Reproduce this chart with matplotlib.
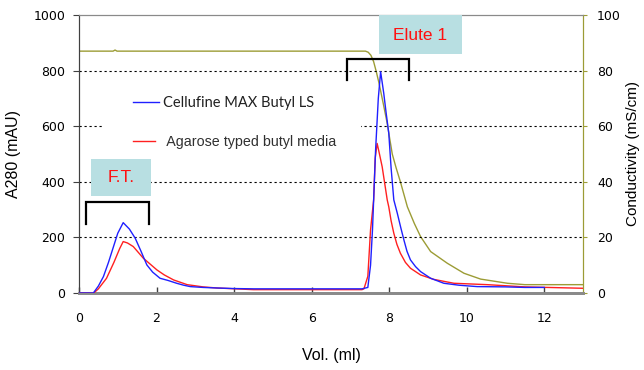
import matplotlib
matplotlib.use("Agg")
import matplotlib.pyplot as plt
from matplotlib.patches import Rectangle

# ---------------- data ----------------
cell_x = [0, 0.37, 0.5, 0.63, 0.76, 0.89, 1.0, 1.14, 1.3, 1.45, 1.6, 1.75, 1.9, 2.09, 2.3, 2.52,
          2.7, 2.87, 3.2, 3.56, 4.0, 4.5, 5.5, 6.5, 7.3, 7.45, 7.52, 7.57, 7.65, 7.72, 7.78, 7.86,
          7.92, 7.99, 8.05, 8.12, 8.21, 8.3, 8.38, 8.46, 8.55, 8.68, 8.81, 9.07, 9.41, 9.8, 10.27,
          11.0, 11.5, 12.0]
cell_y = [0, 0, 25, 59, 110, 167, 215, 253, 230, 197, 150, 101, 75, 53, 45, 35,
          28, 23, 20, 18, 16, 15, 15, 15, 15, 20, 100, 227, 514, 700, 796, 719,
          650, 575, 450, 335, 287, 235, 191, 150, 119, 95, 77, 53, 35, 28, 23,
          22, 20, 20]

agar_x = [0, 0.38, 0.5, 0.71, 0.9, 1.05, 1.14, 1.25, 1.40, 1.66, 2.01, 2.2, 2.44, 2.79, 3.2,
          3.56, 4.5, 5.5, 6.5, 7.3, 7.35, 7.45, 7.52, 7.6, 7.64, 7.69, 7.75, 7.82, 7.95, 7.99,
          8.05, 8.12, 8.2, 8.29, 8.42, 8.55, 8.81, 9.15, 9.67, 10.53, 11.5, 13]
agar_y = [0, 0, 15, 53, 110, 160, 185, 180, 167, 125, 83, 65, 47, 30, 22,
          18, 12, 12, 12, 12, 15, 60, 227, 335, 485, 538, 500, 454, 335, 310,
          260, 215, 175, 143, 110, 89, 65, 49, 35, 30, 22, 17]

cond_x = [0, 0.88, 0.93, 0.98, 7.39, 7.46, 7.53, 7.6, 7.67, 7.74, 7.85, 7.95, 8.08, 8.18, 8.29,
          8.47, 8.65, 8.81, 9.07, 9.5, 9.93, 10.36, 11.05, 11.5, 13]
cond_y = [87, 87, 87.4, 87, 87, 86.6, 85.5, 83.2, 79.5, 75.4, 68, 61, 50, 45, 40,
          31, 25, 20.3, 14.9, 10.7, 7.1, 5, 3.5, 3.0, 3.0]

x_ticks = [0, 2, 4, 6, 8, 10, 12]
y_ticks = [0, 200, 400, 600, 800, 1000]
y2_ticks = [0, 20, 40, 60, 80, 100]
grid_levels = [200, 400, 600, 800]

label_cell = "Cellufine MAX Butyl LS"
label_agar = " Agarose typed butyl media"

# ---------------- layout ----------------
W, H = 644, 370
fig = plt.figure(figsize=(W / 100, H / 100), dpi=100)
L, R, T, B = 79, 583, 15, 293
ax = fig.add_axes([L / W, (H - B) / H, (R - L) / W, (B - T) / H])
ax2 = ax.twinx()

def fx(px):
    return (px - L) / (R - L)

def fy(py):
    return (B - py) / (B - T)

olive = "#9c9c35"
tick_font = dict(family="DejaVu Sans", size=9)

for lv in grid_levels:
    ax.axhline(lv, color="black", lw=0.8, ls=(0, (2, 2.5)), zorder=1)

ax.plot(agar_x, agar_y, color="#ff2020", lw=1.0, zorder=3)
ax.plot(cell_x, cell_y, color="#2020ff", lw=1.0, zorder=3)
ax2.plot(cond_x, cond_y, color=olive, lw=1.0)

ax.set_xlim(0, 13)
ax.set_ylim(0, 1000)
ax2.set_ylim(0, 100)
ax.set_xticks(x_ticks)
ax.set_yticks(y_ticks)
ax2.set_yticks(y2_ticks)
ax.set_xticklabels([str(v) for v in x_ticks], fontdict=tick_font)
ax.set_yticklabels([str(v) for v in y_ticks], fontdict=tick_font)
ax2.set_yticklabels([str(v) for v in y2_ticks], fontdict=tick_font)

ax.tick_params(axis="x", direction="in", length=4, width=1, color="#404040", pad=14)
ax.tick_params(axis="y", direction="out", length=4, width=0.8, color="#404040", pad=6)
ax2.tick_params(axis="y", direction="out", length=3, width=0.8, color=olive, pad=7)

for a in (ax, ax2):
    a.spines["top"].set_color("#8a8a8a")
    a.spines["left"].set_color("#404040")
    a.spines["right"].set_color(olive)
    a.spines["bottom"].set_color("#8a8a8a")
    a.spines["bottom"].set_linewidth(2)
    a.patch.set_visible(False)

ax.set_zorder(2)
ax2.set_zorder(1)

lab_font = dict(family="Liberation Sans", size=11.5)
ax.set_xlabel("Vol. (ml)", fontdict=lab_font, labelpad=16)
ax.set_ylabel("A280 (mAU)", fontdict=lab_font, labelpad=9)
ax2.set_ylabel("Conductivity (mS/cm)", fontdict=dict(family="Liberation Sans", size=11), labelpad=4)

# legend block (white background hides grid)
ax.add_patch(Rectangle((fx(103), fy(165)), fx(361) - fx(103), fy(80) - fy(165),
                       transform=ax.transAxes, facecolor="white", edgecolor="none", zorder=2))
ax.plot([fx(133), fx(159)], [fy(102), fy(102)], transform=ax.transAxes, color="#2020ff", lw=1, zorder=4)
ax.plot([fx(133), fx(155)], [fy(141), fy(141)], transform=ax.transAxes, color="#ff2020", lw=1, zorder=4)
ax.text(fx(163), fy(103), label_cell, transform=ax.transAxes, family="Lato", size=10.5,
        color="#202020", va="center", ha="left", zorder=4)
ax.text(fx(163), fy(142), label_agar, transform=ax.transAxes, family="Liberation Sans", size=10.3,
        color="#303030", va="center", ha="left", zorder=4)

# annotation boxes
box_col = "#b8dfe2"
ax.add_patch(Rectangle((fx(91), fy(196)), fx(151) - fx(91), fy(159) - fy(196),
                       transform=ax.transAxes, facecolor=box_col, edgecolor="none", zorder=4))
ax.text(fx(121), fy(178), "F.T.", transform=ax.transAxes, family="Liberation Sans", size=12.5,
        color="#ff1010", ha="center", va="center", zorder=5)
ax.add_patch(Rectangle((fx(379), fy(54)), fx(462) - fx(379), fy(15) - fy(54),
                       transform=ax.transAxes, facecolor=box_col, edgecolor="none", zorder=4, clip_on=False))
ax.text(fx(420), fy(35), "Elute 1", transform=ax.transAxes, family="Liberation Sans", size=12.5,
        color="#ff1010", ha="center", va="center", zorder=5)

# brackets
ax.plot([fx(86), fx(86), fx(149), fx(149)], [fy(224), fy(202), fy(202), fy(224)],
        transform=ax.transAxes, color="black", lw=1.6, zorder=5, solid_joinstyle="miter")
ax.plot([fx(347), fx(347), fx(409), fx(409)], [fy(80), fy(59), fy(59), fy(80)],
        transform=ax.transAxes, color="black", lw=1.6, zorder=5, solid_joinstyle="miter")

fig.savefig("out.png", dpi=100)
